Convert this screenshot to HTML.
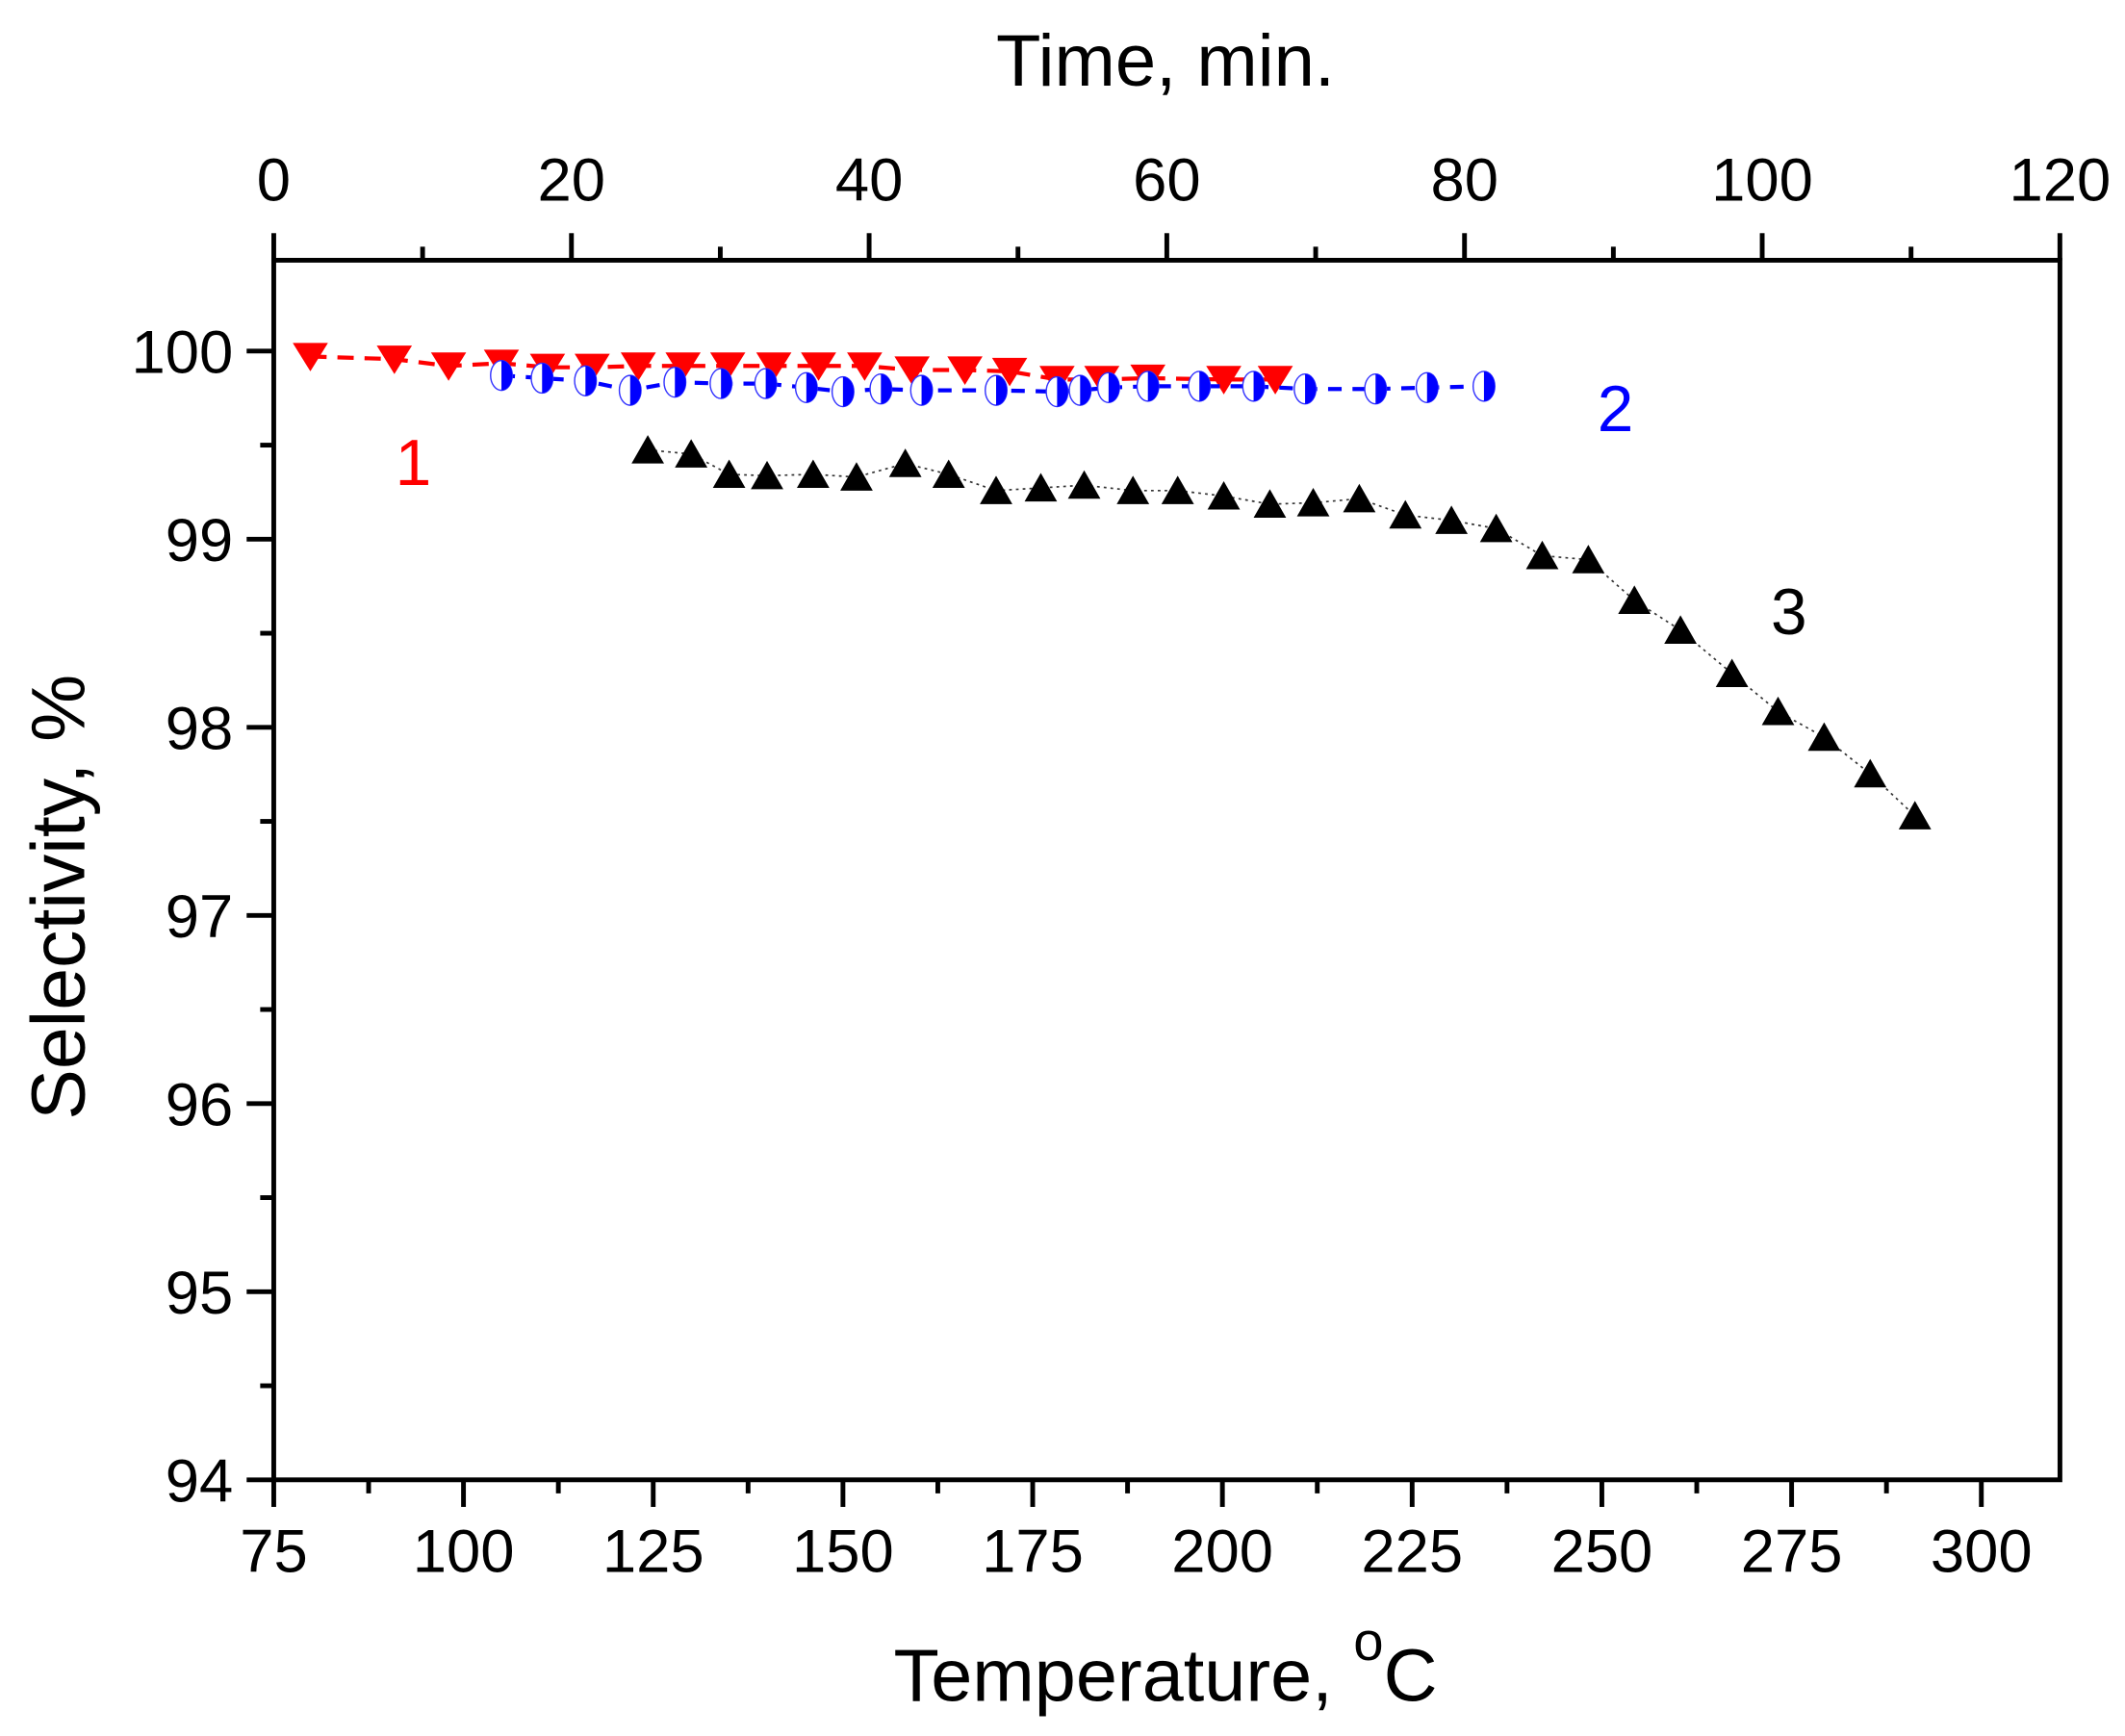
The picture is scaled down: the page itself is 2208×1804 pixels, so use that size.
<!DOCTYPE html>
<html><head><style>html,body{margin:0;padding:0;background:#fff}svg{display:block}</style></head>
<body>
<svg width="2208" height="1804" viewBox="0 0 1568 1281" xmlns="http://www.w3.org/2000/svg" font-family="Liberation Sans, Arial, sans-serif">
<rect width="1568" height="1281" fill="#fff"/>
<g id="axes" stroke="#000" stroke-width="3.5" fill="none">
<rect x="202" y="192" width="1318" height="900"/>
</g>
<g id="ticks" stroke="#000" stroke-width="3.5"></g>
<g id="labels" font-size="45" fill="#000"></g>
<text x="860" y="63" font-size="54" text-anchor="middle">Time, min.</text>
<text x="860" y="1255" font-size="55" text-anchor="middle">Temperature, <tspan dy="-30" font-size="40">o</tspan><tspan dy="30">C</tspan></text>
<text transform="translate(62,662) rotate(-90)" font-size="56" text-anchor="middle">Selectivity, %</text>
<g id="s1"></g><g id="s2"></g><g id="s3"></g>
<text x="305" y="358" font-size="48" fill="#f00" text-anchor="middle">1</text>
<text x="1192" y="318" font-size="48" fill="#00f" text-anchor="middle">2</text>
<text x="1320" y="468" font-size="48" fill="#000" text-anchor="middle">3</text>
<script>
const NS="http://www.w3.org/2000/svg";
function el(p,t,a,txt){const e=document.createElementNS(NS,t);for(const k in a)e.setAttribute(k,a[k]);if(txt!==undefined)e.textContent=txt;document.getElementById(p).appendChild(e);return e;}
for(let i=0;i<=13;i++){const v=94+i*0.5;const y=1092-(v-94)*138.83;if(y<192)break;const maj=i%2==0;
el('ticks','line',{x1:202,x2:202-(maj?20:10),y1:y,y2:y});
if(maj)el('labels','text',{x:172,y:y+16,'text-anchor':'end'},String(v));}
for(let i=0;i<=19;i++){const v=75+i*12.5;const x=202+(v-75)*5.6;if(x>1520)break;const maj=i%2==0;
el('ticks','line',{x1:x,x2:x,y1:1092,y2:1092+(maj?20:10)});
if(maj)el('labels','text',{x:x,y:1160,'text-anchor':'middle'},String(v));}
for(let i=0;i<=12;i++){const v=i*10;const x=202+v*10.983;const maj=i%2==0;
el('ticks','line',{x1:x,x2:x,y1:192,y2:192-(maj?20:10)});
if(maj)el('labels','text',{x:x,y:148,'text-anchor':'middle'},String(v));}
const s1=[[229,263],[291,265],[331,270],[370,268],[404,271],[437,271],[471,270],[504,270],[537,270],[571,270],[604,270],[638,270],[673,273],[712,273],[745,274],[780,280],[813,280],[847,279],[903,280],[941,280]];
const s2=[[370,277],[400,279],[432,281],[465,288],[498,282],[532,283],[565,283],[595,286],[622,289],[650,287],[680,288],[735,288],[780,289],[797,288],[818,286],[847,285],[885,285],[925,285],[963,287],[1015,287],[1053,286],[1095,285]];
const s3=[[478,332],[510,335],[538,350],[566,351],[600,350],[632,352],[668,342],[700,350],[735,362],[768,360],[800,358],[836,362],[869,362],[903,366],[937,372],[969,371],[1003,368],[1037,380],[1071,384],[1104,390],[1138,410],[1172,413],[1206,443],[1240,465],[1278,497],[1312,525],[1346,544],[1380,571],[1413,602]];
const pl=a=>a.map(p=>p.join(',')).join(' ');
el('s3','polyline',{points:pl(s3),fill:'none',stroke:'#333','stroke-width':1.2,'stroke-dasharray':'2,3'});
s3.forEach(([x,y])=>el('s3','polygon',{points:`${x-12},${y+10} ${x+12},${y+10} ${x},${y-11}`,fill:'#000'}));
el('s2','polyline',{points:pl(s2),fill:'none',stroke:'#00f','stroke-width':3,'stroke-dasharray':'10,8'});
s2.forEach(([x,y])=>{el('s2','ellipse',{cx:x,cy:y,rx:8,ry:11,fill:'#fff',stroke:'#33f','stroke-width':1});
el('s2','path',{d:`M${x},${y-11} A8,11 0 0 1 ${x},${y+11} Z`,fill:'#00f'});});
el('s1','polyline',{points:pl(s1),fill:'none',stroke:'#f00','stroke-width':3,'stroke-dasharray':'12,8'});
s1.forEach(([x,y])=>el('s1','polygon',{points:`${x-13},${y-10} ${x+13},${y-10} ${x},${y+11}`,fill:'#f00'}));
</script>
</svg>
</body></html>
